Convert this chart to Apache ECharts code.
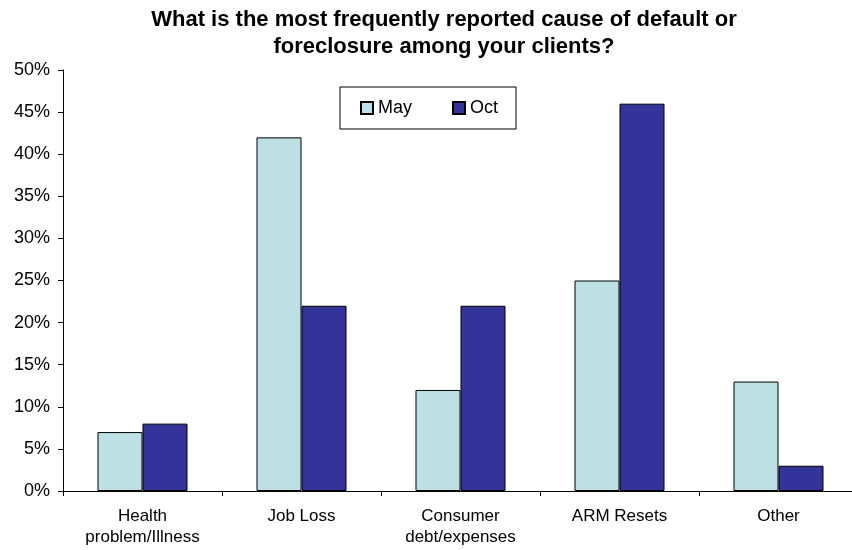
<!DOCTYPE html>
<html><head><meta charset="utf-8">
<script src="https://cdn.jsdelivr.net/npm/echarts@6/dist/echarts.min.js"></script>
<style>html,body{margin:0;padding:0;background:#fff;overflow:hidden}#c{width:852px;height:550px}</style>
</head><body><div id="c"></div>
<script>
const categories = ["Health\nproblem/Illness", "Job Loss", "Consumer\ndebt/expenses", "ARM Resets", "Other"];
const mayValues = [7, 42, 12, 25, 13];
const octValues = [8, 22, 22, 46, 3];
const yTicks = [0, 5, 10, 15, 20, 25, 30, 35, 40, 45, 50];

const chart = echarts.init(document.getElementById('c'));
chart.setOption({
  animation: false,
  title: {
    text: "What is the most frequently reported cause of default or\nforeclosure among your clients?",
    left: 439, top: 1, textAlign: 'center',
    textStyle: { fontFamily: 'Liberation Sans, Arial', fontWeight: 'bold', fontSize: 22, lineHeight: 27, color: '#000' }
  },
  legend: {
    left: 340, top: 87, width: 176, height: 45,
    padding: [12, 18, 12, 20],
    borderColor: '#000', borderWidth: 1,
    itemWidth: 12, itemHeight: 12, itemGap: 40,
    textStyle: { fontFamily: 'Liberation Sans, Arial', fontSize: 18, color: '#000' },
    data: [{ name: 'May', icon: 'rect' }, { name: 'Oct', icon: 'rect' }]
  },
  grid: { left: 63, top: 70, width: 795, height: 421, containLabel: false, outerBoundsMode: 'none' },
  xAxis: {
    type: 'category', data: categories,
    axisLine: { lineStyle: { color: '#000', width: 1 } },
    axisTick: { show: true, length: 5, lineStyle: { color: '#000' } },
    axisLabel: { fontFamily: 'Liberation Sans, Arial', fontSize: 17, color: '#000', margin: 15, lineHeight: 21 }
  },
  yAxis: {
    type: 'value', min: 0, max: 50, interval: 5,
    axisLine: { show: true, lineStyle: { color: '#000' } },
    axisTick: { show: true, length: 5, lineStyle: { color: '#000' } },
    splitLine: { show: false },
    axisLabel: { fontFamily: 'Liberation Sans, Arial', fontSize: 18, color: '#000', margin: 13,
      formatter: v => yTicks.includes(v) ? v + '%' : '' }
  },
  series: [
    { name: 'May', type: 'bar', data: mayValues, barWidth: 45, barGap: '0%',
      itemStyle: { color: '#BCE0E3', borderColor: '#000', borderWidth: 1 } },
    { name: 'Oct', type: 'bar', data: octValues, barWidth: 45, barGap: '0%',
      itemStyle: { color: '#333399', borderColor: '#000', borderWidth: 1 } }
  ]
});
</script></body></html>
